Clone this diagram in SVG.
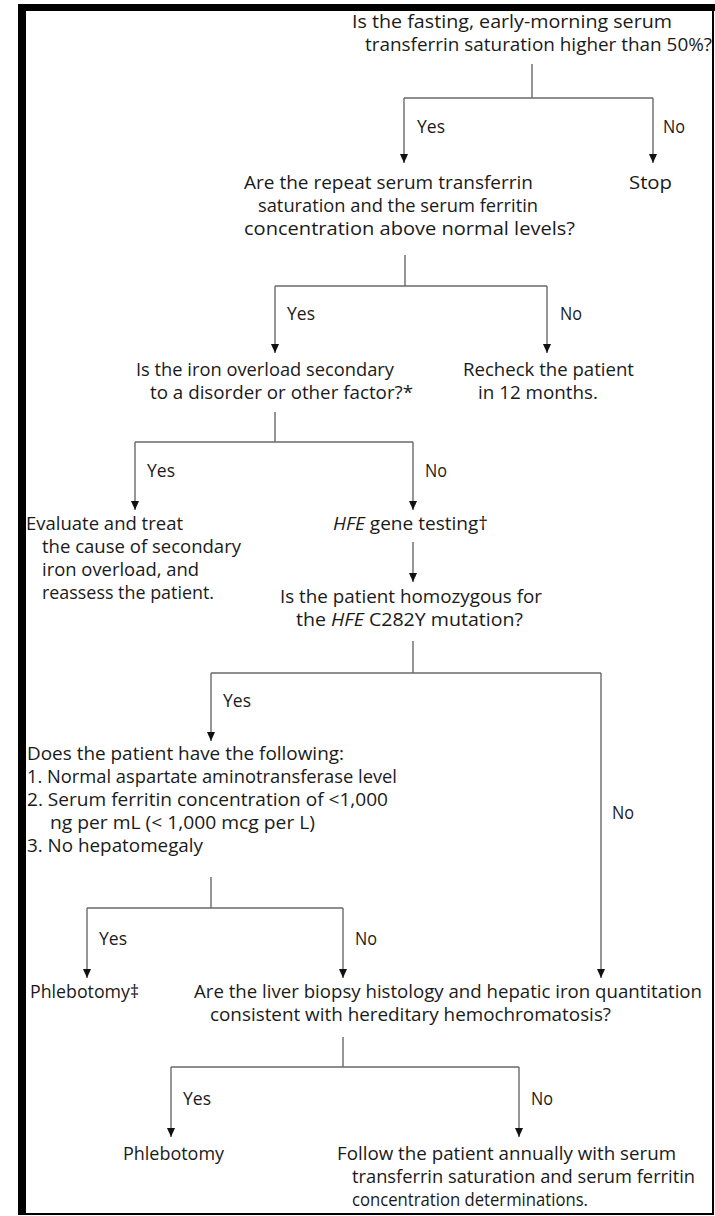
<svg xmlns="http://www.w3.org/2000/svg" width="715" height="1216" viewBox="0 0 715 1216">
<style>
  text { font-family: "Open Sans", "Noto Sans", "Liberation Sans", sans-serif; font-size: 17.5px; fill: #1a1a1a; }
  .lbl { font-size: 17.5px; }
  .ln { stroke: #6a6a6a; stroke-width: 1.4; fill: none; }
  .ar { stroke: #6a6a6a; stroke-width: 1.4; fill: none; marker-end: url(#ah); }
  .it { font-style: italic; }
</style>
<defs>
  <marker id="ah" markerUnits="userSpaceOnUse" markerWidth="9" markerHeight="9" viewBox="0 -4.5 9 9" refX="9" refY="0" orient="auto">
    <path d="M0,-4 L9,0 L0,4 z" fill="#111"/>
  </marker>
</defs>
<rect x="0" y="0" width="715" height="1216" fill="#fff"/>
<g id="frame" fill="#000">
  <rect x="18" y="4" width="8" height="1211"/>
  <rect x="18" y="4" width="697" height="7"/>
  <rect x="712" y="4" width="2" height="1211"/>
  <rect x="18" y="1213" width="696" height="2"/>
</g>
<g id="connectors">
  <path class="ln" d="M532,64 V98 M404,98 H653"/>
  <path class="ar" d="M404,98 V163"/>
  <path class="ar" d="M653,98 V163"/>
  <path class="ln" d="M405,255 V286 M275,286 H547"/>
  <path class="ar" d="M275,286 V353"/>
  <path class="ar" d="M547,286 V353"/>
  <path class="ln" d="M275,412 V442 M135,442 H413"/>
  <path class="ar" d="M135,442 V510"/>
  <path class="ar" d="M413,442 V510"/>
  <path class="ar" d="M413,542 V582"/>
  <path class="ln" d="M413,641 V673 M211,673 H601"/>
  <path class="ar" d="M211,673 V741"/>
  <path class="ar" d="M601,673 V978"/>
  <path class="ln" d="M211,877 V908 M87,908 H343"/>
  <path class="ar" d="M87,908 V978"/>
  <path class="ar" d="M343,908 V978"/>
  <path class="ln" d="M343,1037 V1067 M171,1067 H519"/>
  <path class="ar" d="M171,1067 V1137"/>
  <path class="ar" d="M519,1067 V1137"/>
  <g id="labels">
    <text class="lbl" x="417" y="133" textLength="28" lengthAdjust="spacingAndGlyphs">Yes</text>
    <text class="lbl" x="663" y="133" textLength="22" lengthAdjust="spacingAndGlyphs">No</text>
    <text class="lbl" x="287" y="320" textLength="28" lengthAdjust="spacingAndGlyphs">Yes</text>
    <text class="lbl" x="560" y="320" textLength="22" lengthAdjust="spacingAndGlyphs">No</text>
    <text class="lbl" x="147" y="477" textLength="28" lengthAdjust="spacingAndGlyphs">Yes</text>
    <text class="lbl" x="425" y="477" textLength="22" lengthAdjust="spacingAndGlyphs">No</text>
    <text class="lbl" x="223" y="707" textLength="28" lengthAdjust="spacingAndGlyphs">Yes</text>
    <text class="lbl" x="612" y="819" textLength="22" lengthAdjust="spacingAndGlyphs">No</text>
    <text class="lbl" x="99" y="945" textLength="28" lengthAdjust="spacingAndGlyphs">Yes</text>
    <text class="lbl" x="355" y="945" textLength="22" lengthAdjust="spacingAndGlyphs">No</text>
    <text class="lbl" x="183" y="1105" textLength="28" lengthAdjust="spacingAndGlyphs">Yes</text>
    <text class="lbl" x="531" y="1105" textLength="22" lengthAdjust="spacingAndGlyphs">No</text>
  </g>
</g>
<g id="n1">
  <text x="352" y="28" textLength="320" lengthAdjust="spacingAndGlyphs">Is the fasting, early-morning serum</text>
  <text x="365" y="51" textLength="347" lengthAdjust="spacingAndGlyphs">transferrin saturation higher than 50%?</text>
</g>
<g id="n2">
  <text x="244" y="189" textLength="289" lengthAdjust="spacingAndGlyphs">Are the repeat serum transferrin</text>
  <text x="258" y="212" textLength="280" lengthAdjust="spacingAndGlyphs">saturation and the serum ferritin</text>
  <text x="244" y="235" textLength="331" lengthAdjust="spacingAndGlyphs">concentration above normal levels?</text>
</g>
<g id="n3">
  <text x="629" y="189" textLength="43" lengthAdjust="spacingAndGlyphs">Stop</text>
</g>
<g id="n4">
  <text x="136" y="376" textLength="258" lengthAdjust="spacingAndGlyphs">Is the iron overload secondary</text>
  <text x="150" y="399" textLength="263" lengthAdjust="spacingAndGlyphs">to a disorder or other factor?*</text>
</g>
<g id="n5">
  <text x="463" y="376" textLength="171" lengthAdjust="spacingAndGlyphs">Recheck the patient</text>
  <text x="478" y="399" textLength="120" lengthAdjust="spacingAndGlyphs">in 12 months.</text>
</g>
<g id="n6">
  <text x="26" y="530" textLength="157" lengthAdjust="spacingAndGlyphs">Evaluate and treat</text>
  <text x="42" y="553" textLength="199" lengthAdjust="spacingAndGlyphs">the cause of secondary</text>
  <text x="42" y="576" textLength="157" lengthAdjust="spacingAndGlyphs">iron overload, and</text>
  <text x="42" y="599" textLength="172" lengthAdjust="spacingAndGlyphs">reassess the patient.</text>
</g>
<g id="n7">
  <text x="333" y="530" textLength="155" lengthAdjust="spacingAndGlyphs"><tspan class="it">HFE</tspan> gene testing†</text>
</g>
<g id="n8">
  <text x="280" y="603" textLength="262" lengthAdjust="spacingAndGlyphs">Is the patient homozygous for</text>
  <text x="296" y="626" textLength="227" lengthAdjust="spacingAndGlyphs">the <tspan class="it">HFE</tspan> C282Y mutation?</text>
</g>
<g id="n9">
  <text x="27" y="760" textLength="317" lengthAdjust="spacingAndGlyphs">Does the patient have the following:</text>
  <text x="27" y="783" textLength="370" lengthAdjust="spacingAndGlyphs">1. Normal aspartate aminotransferase level</text>
  <text x="27" y="806" textLength="361" lengthAdjust="spacingAndGlyphs">2. Serum ferritin concentration of &lt;1,000</text>
  <text x="50" y="829" textLength="265" lengthAdjust="spacingAndGlyphs">ng per mL (&lt; 1,000 mcg per L)</text>
  <text x="27" y="852" textLength="176" lengthAdjust="spacingAndGlyphs">3. No hepatomegaly</text>
</g>
<g id="n10">
  <text x="30" y="998" textLength="109" lengthAdjust="spacingAndGlyphs">Phlebotomy‡</text>
</g>
<g id="n11">
  <text x="194" y="998" textLength="508" lengthAdjust="spacingAndGlyphs">Are the liver biopsy histology and hepatic iron quantitation</text>
  <text x="210" y="1021" textLength="401" lengthAdjust="spacingAndGlyphs">consistent with hereditary hemochromatosis?</text>
</g>
<g id="n12">
  <text x="123" y="1160" textLength="101" lengthAdjust="spacingAndGlyphs">Phlebotomy</text>
</g>
<g id="n13">
  <text x="337" y="1160" textLength="339" lengthAdjust="spacingAndGlyphs">Follow the patient annually with serum</text>
  <text x="352" y="1183" textLength="343" lengthAdjust="spacingAndGlyphs">transferrin saturation and serum ferritin</text>
  <text x="352" y="1206" textLength="236" lengthAdjust="spacingAndGlyphs">concentration determinations.</text>
</g>
</svg>
